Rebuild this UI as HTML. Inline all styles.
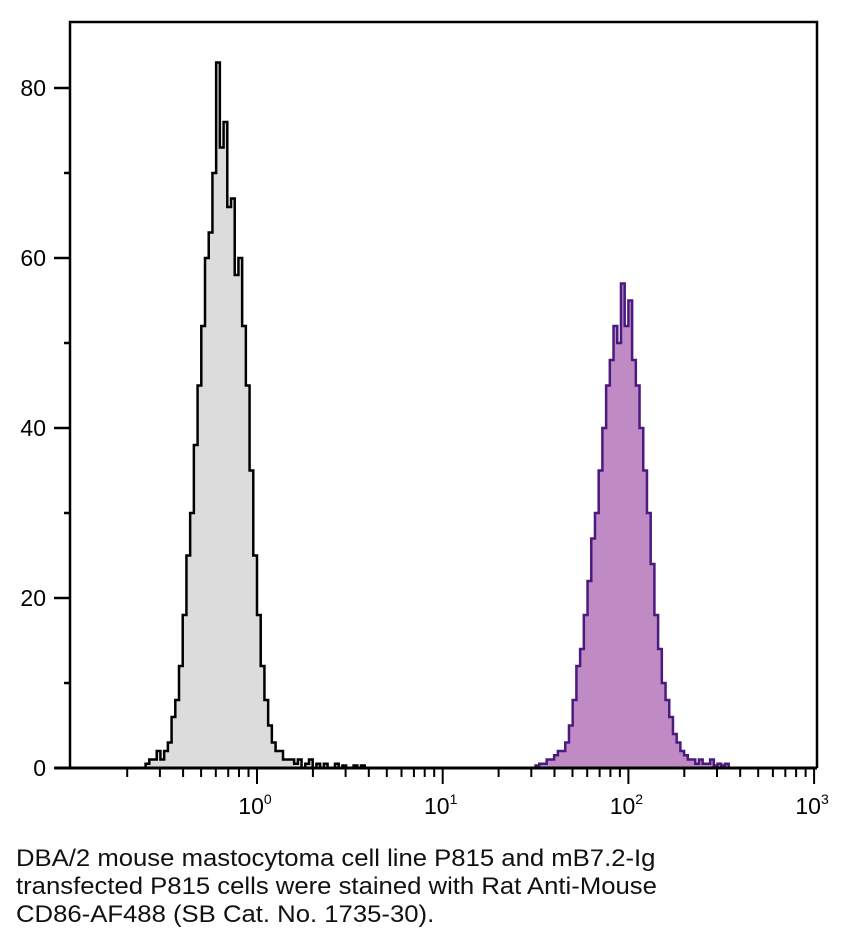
<!DOCTYPE html>
<html><head><meta charset="utf-8"><style>
body{margin:0;background:#fff;width:846px;height:945px;overflow:hidden;font-family:"Liberation Sans",sans-serif}
#cap{position:absolute;left:16px;top:845px;font-size:24px;line-height:28px;color:#111;transform:scaleX(1.07);transform-origin:0 0;white-space:nowrap}
</style></head><body>
<svg id="chart" width="846" height="840" style="position:absolute;left:0;top:0"></svg>
<div id="cap">DBA/2 mouse mastocytoma cell line P815 and mB7.2-Ig<br>transfected P815 cells were stained with Rat Anti-Mouse<br>CD86-AF488 (SB Cat. No. 1735-30).</div>
<script>
const grayStart = -0.60;
const grayCounts = [0.5,1,1,2,1,2,3,6,8,12,18,25,30,38,45,52,60,63,70,83,73,76,66,67,58,60,52,45,35,25,18,12,8,5,3,2,2,1,1,1,0.5,1,0,0.5,1,0,0.5,0,0.5,0,0,0.5,0,0.3,0,0,0.3,0,0.3];
const purpleStart = 1.50;
const purpleCounts = [0.3,0.5,0.5,1,1,1.5,2,2,3,5,8,12,14,18,22,27,30,35,40,45,48,52,50,57,52,55,48,45,40,35,30,24,18,14,10,8,6,4,3,2,1.5,1,1,0.5,1,0.5,0.5,1,0.3,0.5,0.3,0.5];
const binW = 0.02;
const yTicks = [0,20,40,60,80];
const xDecades = [0,1,2,3];
const xLabels = ["0","1","2","3"];

const NS="http://www.w3.org/2000/svg";
const svg=document.getElementById('chart');
const L=70,R=817,T=22,B=768;
const xs=v=>257+(v)*185.7;
const ys=v=>B-v*8.5;
function el(t,a){const e=document.createElementNS(NS,t);for(const k in a)e.setAttribute(k,a[k]);svg.appendChild(e);return e;}
function hist(start,counts,fill,stroke,name){
  let d=`M${xs(start)},${B}`;
  counts.forEach((c,i)=>{d+=` L${xs(start+i*binW)},${ys(c)} L${xs(start+(i+1)*binW)},${ys(c)}`;});
  d+=` L${xs(start+counts.length*binW)},${B}`;
  const f=el('path',{d:d+' Z',fill:fill,stroke:'none'});
  
  
  const s=el('path',{d:d,fill:'none',stroke:stroke,'stroke-width':2.5});
  
  
}
hist(grayStart,grayCounts,'#dcdcdc','#000','control-histogram');
hist(purpleStart,purpleCounts,'#c08bc4','#4b1a7e','stained-histogram');
const fr=el('path',{d:`M${L},${B} L${L},${T} L${R},${T} L${R},${B}`,fill:'none',stroke:'#000','stroke-width':2.5});


const xa=el('line',{x1:55,y1:B,x2:R,y2:B,stroke:'#000','stroke-width':3});


for(let v=0;v<=80;v+=10){
  const major=v%20===0;
  const t=el('line',{x1:major?54:64,y1:ys(v),x2:L,y2:ys(v),stroke:'#000','stroke-width':2.5});
  
  
}
yTicks.forEach(v=>{
  const t=el('text',{x:46,y:ys(v)+8,'text-anchor':'end','font-size':23,fill:'#000'});
  t.textContent=v;
  
  
});
for(let d=-1;d<3;d++){
  for(let m=2;m<=10;m++){
    const lv=d+Math.log10(m);
    if(xs(lv)<L)continue;
    const major=m===10;
    const t=el('line',{x1:xs(lv),y1:B,x2:xs(lv),y2:B+(major?16:9),stroke:'#000','stroke-width':2});
    
    
  }
}
xDecades.forEach((d,i)=>{
  const t=el('text',{x:xs(d)-2,y:814,'text-anchor':'middle','font-size':23,fill:'#000'});
  t.textContent='10';
  const s=document.createElementNS(NS,'tspan');s.setAttribute('dy',-10);s.setAttribute('font-size',14);s.textContent=xLabels[i];t.appendChild(s);
  
  
});
</script>
</body></html>
